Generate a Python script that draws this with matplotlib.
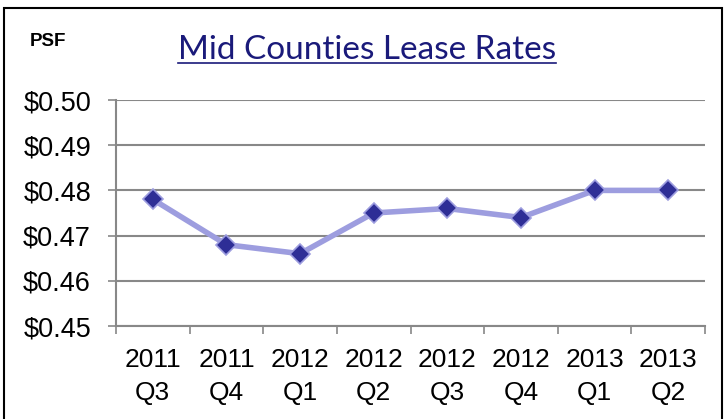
import matplotlib
matplotlib.use("Agg")
import matplotlib.pyplot as plt
from matplotlib.patches import Rectangle
from matplotlib.lines import Line2D

# Chart data
quarters = ["2011\nQ3", "2011\nQ4", "2012\nQ1", "2012\nQ2",
            "2012\nQ3", "2012\nQ4", "2013\nQ1", "2013\nQ2"]
rates = [0.478, 0.468, 0.466, 0.475, 0.476, 0.474, 0.480, 0.480]
y_ticks = [0.45, 0.46, 0.47, 0.48, 0.49, 0.50]

plt.rcParams['font.family'] = ['Liberation Sans', 'DejaVu Sans']

fig = plt.figure(figsize=(7.27, 4.19), dpi=100)
ax = fig.add_axes([116 / 727, 1 - 326 / 419, (705 - 116) / 727, 226 / 419])

x = list(range(len(quarters)))
ax.plot(x, rates, color='#9d9ddf', lw=4, zorder=3,
        marker='D', markersize=10, markerfacecolor='#2e2e96',
        markeredgecolor='#9d9ddf', markeredgewidth=1.2)

ax.set_xlim(-0.5, len(quarters) - 0.5)
ax.set_ylim(0.45, 0.50)
ax.set_yticks(y_ticks)
ax.set_yticklabels([f"${v:.2f}" for v in y_ticks], fontsize=19.5)
ax.set_xticks(x)
ax.set_xticklabels(quarters, fontsize=19, linespacing=1.45)
ax.set_xticks([i - 0.5 for i in range(len(quarters) + 1)], minor=True)
ax.tick_params(axis='x', which='major', length=0, pad=16)
ax.tick_params(axis='x', which='minor', length=6, color='#888888', width=1.2)
ax.tick_params(axis='y', length=6, color='#888888', width=1.2, pad=12)

ax.grid(axis='y', color='#888888', lw=1.5)
ax.set_axisbelow(True)
for side in ['top', 'right']:
    ax.spines[side].set_visible(False)
for side in ['left', 'bottom']:
    ax.spines[side].set_color('#888888')
    ax.spines[side].set_linewidth(1.5)

# Outer frame
fig.patches.append(Rectangle((4 / 727, -0.05), 718 / 727, 1.05 - 8 / 419,
                             transform=fig.transFigure, fill=False,
                             edgecolor='black', lw=1.5))

fig.text(30 / 727, 1 - 42 / 419, "PSF", fontsize=13.5, fontweight='bold',
         va='center', ha='left')

title = fig.text(367 / 727, 1 - 50 / 419, "Mid Counties Lease Rates",
                 fontsize=24, color='#1a1a7a', ha='center', va='center',
                 family=['Lato', 'DejaVu Sans'])
fig.canvas.draw()
bb = title.get_window_extent().transformed(fig.transFigure.inverted())
fig.lines.append(Line2D([bb.x0, bb.x1], [bb.y0 + 0.004, bb.y0 + 0.004],
                        transform=fig.transFigure, color='#1a1a7a', lw=1.2))

fig.savefig("out.png", dpi=100)
